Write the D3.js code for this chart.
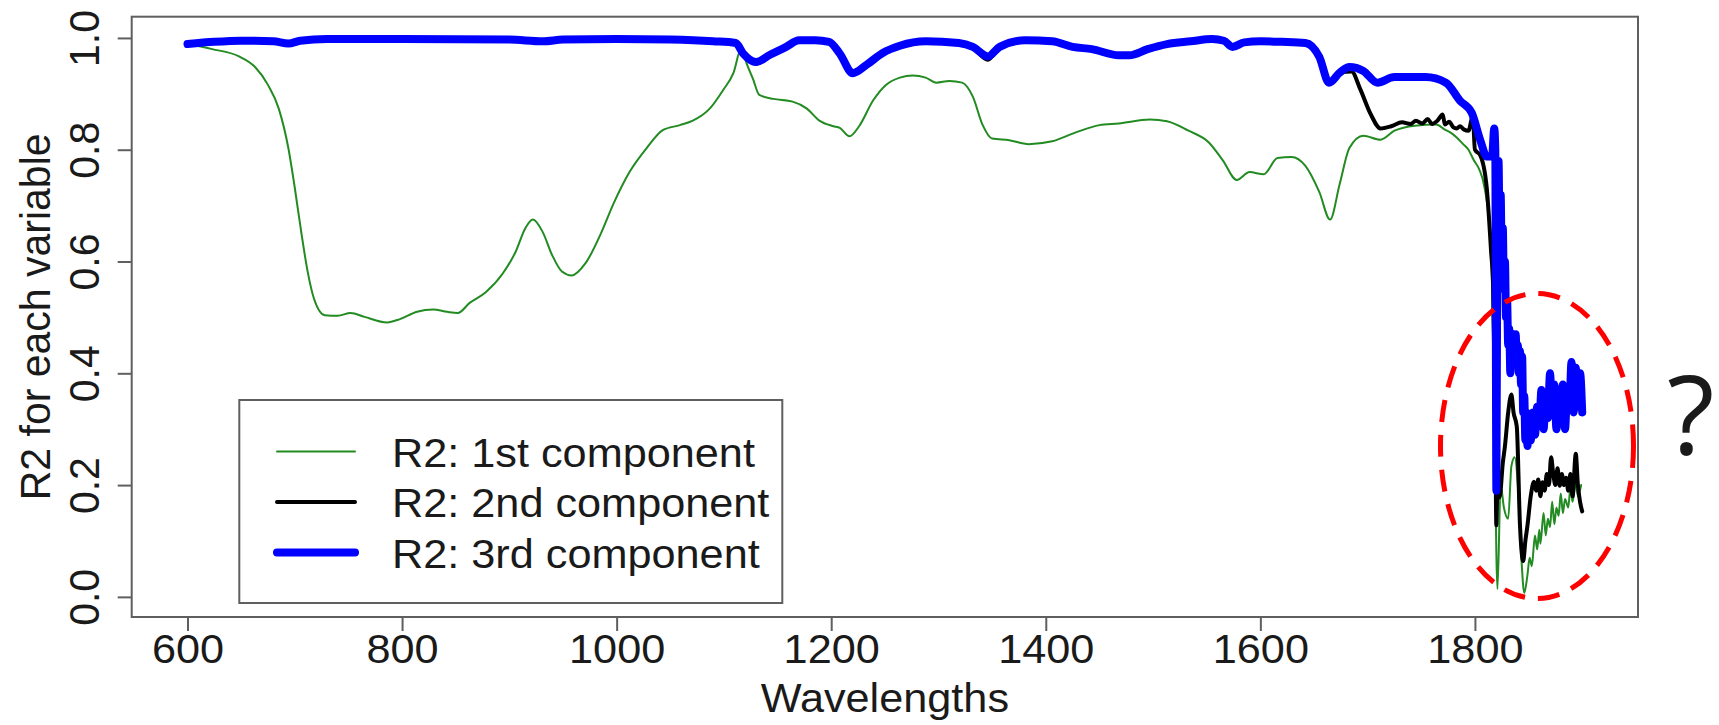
<!DOCTYPE html>
<html>
<head>
<meta charset="utf-8">
<script src="https://cdn.jsdelivr.net/npm/d3@7"></script>
<style>
  html, body { margin: 0; padding: 0; background: #fff; }
  svg { display: block; }
  text { font-family: "Liberation Sans", Arial, Helvetica, sans-serif; fill: #1a1a1a; }
</style>
</head>
<body>
<svg id="chart" width="1719" height="725"></svg>
<script>
// ---------------- data ----------------
const wl1 = [600,623,648,663,675,685,694,700,706,712,718,728,740,752,765,786,798,814,829,842,852,863,878,894,906,915,922,931,940,949,958,971,986,997,1012,1028,1043,1059,1071,1087,1099,1109,1116,1122,1127,1133,1146,1164,1177,1189,1202,1208,1217,1226,1239,1251,1264,1276,1288,1298,1310,1322,1332,1341,1350,1366,1384,1406,1428,1450,1468,1497,1513,1533,1552,1565,1578,1590,1603,1616,1629,1642,1655,1665,1674,1683,1696,1712,1725,1744,1764,1772,1777,1783,1789,1794,1799,1804,1809,1815,1818,1821,1824,1827,1831,1834,1837,1840,1843,1846,1849,1851,1853,1856,1858,1860,1861,1864,1866,1868,1870,1872,1874,1876,1878,1880,1882,1884,1887,1889,1891,1894,1896,1899];
const r2First = [0.989,0.980,0.967,0.948,0.916,0.874,0.803,0.732,0.653,0.582,0.533,0.504,0.503,0.508,0.501,0.491,0.497,0.510,0.514,0.510,0.508,0.526,0.545,0.579,0.618,0.660,0.675,0.653,0.611,0.582,0.575,0.597,0.653,0.703,0.760,0.803,0.835,0.844,0.852,0.874,0.906,0.938,0.980,0.950,0.927,0.898,0.891,0.886,0.874,0.852,0.842,0.839,0.824,0.842,0.888,0.916,0.929,0.933,0.929,0.920,0.923,0.920,0.895,0.845,0.820,0.817,0.810,0.815,0.831,0.844,0.847,0.854,0.851,0.834,0.813,0.781,0.746,0.760,0.756,0.785,0.787,0.771,0.724,0.675,0.739,0.803,0.825,0.818,0.834,0.843,0.845,0.836,0.831,0.822,0.810,0.800,0.781,0.765,0.732,0.625,0.341,0.014,0.200,0.160,0.140,0.234,0.250,0.200,0.080,0.007,0.040,0.070,0.055,0.110,0.085,0.120,0.095,0.150,0.110,0.140,0.125,0.170,0.130,0.160,0.145,0.185,0.150,0.175,0.160,0.195,0.170,0.205,0.180,0.200];

const wl2 = [600,625,650,680,694,705,730,800,900,931,950,1000,1050,1090,1111,1118,1130,1143,1158,1170,1185,1198,1208,1220,1233,1248,1264,1288,1319,1332,1346,1357,1381,1406,1425,1443,1468,1478,1495,1513,1535,1555,1566,1574,1585,1600,1620,1642,1655,1664,1674,1685,1693,1703,1712,1722,1732,1740,1745,1751,1756,1760,1765,1770,1772,1776,1780,1783,1786,1790,1794,1798,1800,1805,1811,1815,1817,1819,1820,1821,1823,1826,1828,1831,1834,1836,1839,1842,1845,1847,1849,1852,1855,1857,1859,1861,1863,1865,1867,1869,1871,1873,1875,1877,1879,1881,1883,1885,1887,1889,1891,1894,1896,1898,1900];
const r2Second = [0.989,0.993,0.995,0.994,0.990,0.995,0.998,0.998,0.997,0.994,0.997,0.998,0.997,0.994,0.991,0.970,0.954,0.968,0.984,0.996,0.996,0.993,0.972,0.937,0.952,0.973,0.986,0.994,0.991,0.982,0.961,0.984,0.996,0.994,0.984,0.980,0.969,0.969,0.980,0.989,0.994,0.998,0.995,0.984,0.992,0.994,0.993,0.991,0.966,0.920,0.938,0.940,0.909,0.863,0.838,0.842,0.849,0.846,0.852,0.847,0.855,0.846,0.852,0.863,0.845,0.850,0.840,0.838,0.842,0.836,0.834,0.860,0.800,0.790,0.732,0.620,0.554,0.300,0.128,0.200,0.178,0.240,0.270,0.330,0.362,0.330,0.305,0.128,0.064,0.100,0.128,0.180,0.206,0.190,0.210,0.180,0.205,0.190,0.220,0.200,0.250,0.220,0.200,0.230,0.199,0.220,0.200,0.213,0.190,0.220,0.180,0.256,0.200,0.170,0.153];

const wl3 = [600,625,650,680,694,705,730,800,900,931,950,1000,1050,1090,1111,1118,1130,1143,1158,1170,1185,1198,1208,1220,1233,1248,1264,1288,1319,1332,1346,1357,1381,1406,1425,1443,1468,1478,1495,1513,1535,1555,1566,1574,1585,1600,1620,1642,1655,1664,1674,1683,1696,1709,1725,1754,1773,1786,1797,1805,1811,1816,1818,1819,1820,1821,1822,1823,1824,1825,1826,1827,1828,1829,1830,1831,1832,1833,1834,1835,1836,1837,1838,1839,1840,1841,1842,1843,1844,1845,1846,1847,1848,1849,1850,1852,1854,1856,1858,1860,1862,1864,1866,1868,1870,1872,1874,1876,1878,1880,1882,1884,1886,1888,1890,1892,1894,1896,1898,1900];
const r2Third = [0.989,0.993,0.995,0.994,0.990,0.995,0.998,0.998,0.997,0.994,0.997,0.998,0.997,0.994,0.991,0.972,0.957,0.970,0.984,0.996,0.996,0.993,0.972,0.937,0.952,0.973,0.986,0.994,0.991,0.984,0.967,0.984,0.996,0.994,0.984,0.980,0.969,0.969,0.980,0.989,0.994,0.998,0.995,0.984,0.992,0.994,0.993,0.991,0.966,0.920,0.938,0.948,0.941,0.920,0.930,0.930,0.920,0.888,0.866,0.817,0.788,0.788,0.838,0.800,0.190,0.700,0.780,0.650,0.720,0.600,0.660,0.550,0.600,0.500,0.530,0.450,0.480,0.400,0.460,0.420,0.470,0.430,0.470,0.420,0.450,0.400,0.440,0.380,0.430,0.330,0.360,0.280,0.330,0.270,0.310,0.280,0.330,0.290,0.340,0.310,0.370,0.300,0.360,0.320,0.400,0.330,0.380,0.300,0.360,0.330,0.380,0.300,0.370,0.340,0.420,0.330,0.410,0.340,0.400,0.330];

const xTicks = [600, 800, 1000, 1200, 1400, 1600, 1800];
const yTicks = [0.0, 0.2, 0.4, 0.6, 0.8, 1.0];
const legendLabels = ["R2: 1st component", "R2: 2nd component", "R2: 3rd component"];
const xTitle = "Wavelengths";
const yTitle = "R2 for each variable";
const annotation = "?";

// ---------------- layout ----------------
const svg = d3.select("#chart");
const L = 131.7, R = 1638, T = 16.7, B = 617;
const frame = "#5f5f5f";
const fs = 41;      // font size
const sx = 1.055;   // the original figure is slightly stretched horizontally

const x = d3.scaleLinear().domain([548, 1952]).range([L, R]);
const y = d3.scaleLinear().domain([-0.036, 1.038]).range([B, T]);

// bottom axis
const gx = svg.append("g").attr("transform", `translate(0,${B})`)
  .call(d3.axisBottom(x).tickValues(xTicks).tickSize(14).tickFormat(d3.format("d")));
gx.select(".domain").remove();
gx.selectAll(".tick line").attr("stroke", frame).attr("stroke-width", 2);
gx.selectAll(".tick text").attr("y", 46.5).attr("dy", 0)
  .attr("transform", `scale(${sx},1)`)
  .style("font-size", fs + "px").attr("fill", "#1a1a1a");

// left axis
const gy = svg.append("g").attr("transform", `translate(${L},0)`)
  .call(d3.axisLeft(y).tickValues(yTicks).tickSize(14).tickFormat(d3.format(".1f")));
gy.select(".domain").remove();
gy.selectAll(".tick line").attr("stroke", frame).attr("stroke-width", 2);
gy.selectAll(".tick text")
  .attr("x", 0).attr("y", -33 / sx).attr("dy", 0)
  .attr("text-anchor", "middle").attr("transform", `scale(${sx},1) rotate(-90)`)
  .style("font-size", fs + "px").attr("fill", "#1a1a1a");

// titles
svg.append("text").attr("transform", `translate(${(L + R) / 2},712) scale(${sx},1)`)
  .attr("text-anchor", "middle").style("font-size", fs + "px").text(xTitle);
svg.append("text").attr("transform", `translate(50,${(T + B) / 2}) scale(${sx},1) rotate(-90)`)
  .attr("text-anchor", "middle").style("font-size", fs + "px").text(yTitle);

// lines
const mk = (wl, v) => wl.map((w, i) => [w, v[i]]);
const line = d3.line().x(d => x(d[0])).y(d => y(d[1])).curve(d3.curveMonotoneX);
const series = [
  {data: mk(wl1, r2First), color: "#228b22", width: 2},
  {data: mk(wl2, r2Second), color: "#000000", width: 4},
  {data: mk(wl3, r2Third), color: "#0000ff", width: 8}
];
svg.append("g").selectAll("path").data(series).join("path")
  .attr("d", d => line(d.data))
  .attr("fill", "none")
  .attr("stroke", d => d.color)
  .attr("stroke-width", d => d.width)
  .attr("stroke-linejoin", "round")
  .attr("stroke-linecap", "round");

// plot frame
svg.append("rect").attr("x", L).attr("y", T).attr("width", R - L).attr("height", B - T)
  .attr("fill", "none").attr("stroke", frame).attr("stroke-width", 2);

// legend
const lg = svg.append("g");
lg.append("rect").attr("x", 239.3).attr("y", 400).attr("width", 543).attr("height", 203)
  .attr("fill", "#fff").attr("stroke", frame).attr("stroke-width", 2);
const ly = d3.scalePoint().domain(legendLabels).range([451.5, 552.5]);
legendLabels.forEach((lab, i) => {
  lg.append("line").attr("x1", 277).attr("x2", 355).attr("y1", ly(lab)).attr("y2", ly(lab))
    .attr("stroke", series[i].color).attr("stroke-width", series[i].width)
    .attr("stroke-linecap", "round");
  lg.append("text").attr("transform", `translate(392,${ly(lab) + 15}) scale(${sx},1)`)
    .style("font-size", fs + "px").text(lab);
});

// annotation: red dashed ellipse and question mark
svg.append("ellipse").attr("cx", 1537).attr("cy", 446).attr("rx", 96.5).attr("ry", 152.5)
  .attr("fill", "none").attr("stroke", "#ff0000").attr("stroke-width", 5)
  .attr("stroke-dasharray", "22,13");
svg.append("text").attr("x", 1667).attr("y", 455)
  .style("font-family", "'Open Sans', 'Noto Sans', sans-serif")
  .style("font-size", "110px").attr("fill", "#000").text(annotation);
</script>
</body>
</html>
